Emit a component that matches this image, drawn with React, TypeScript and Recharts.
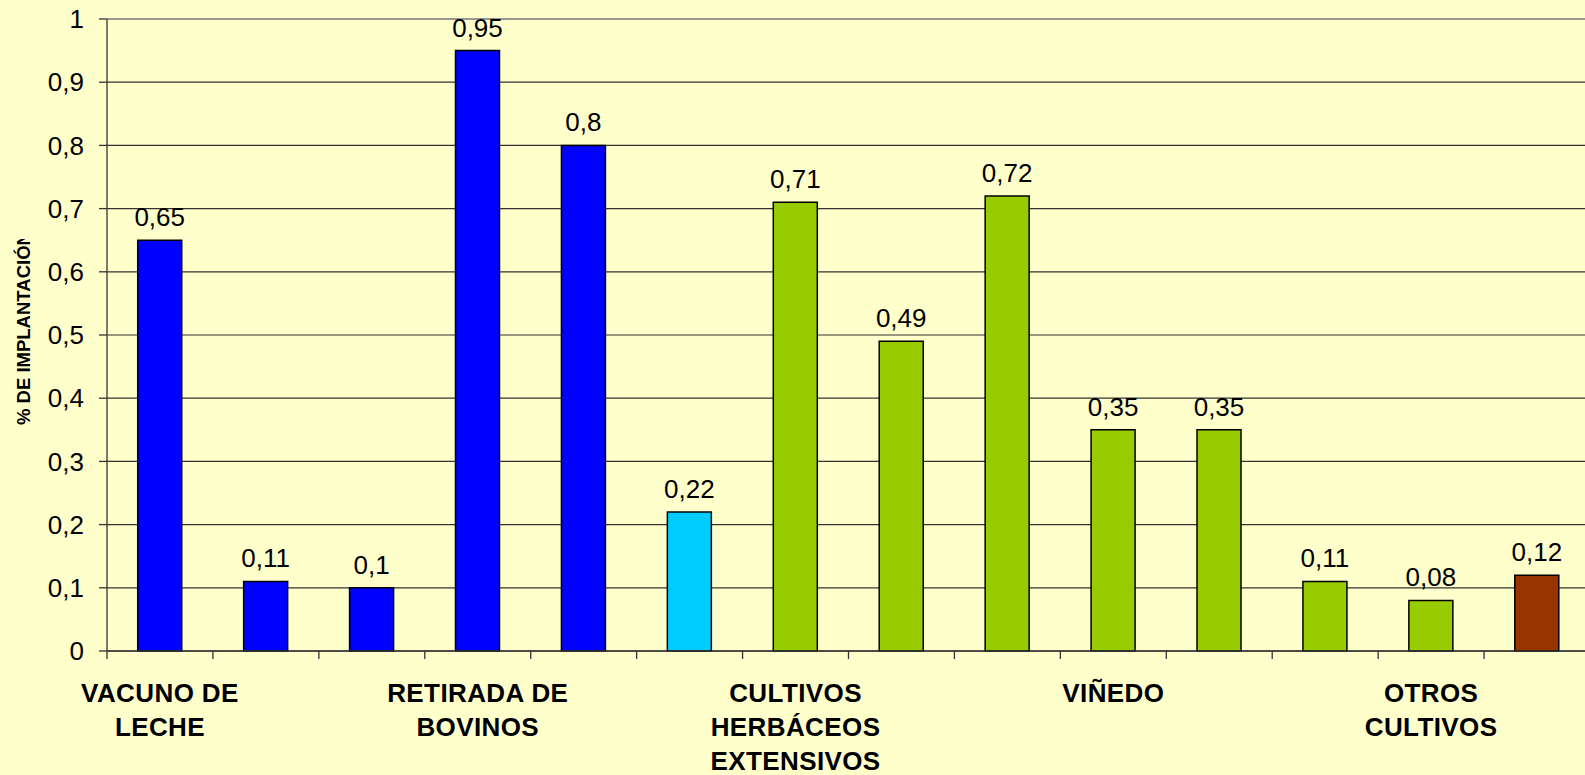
import { BarChart, Bar, XAxis, YAxis, CartesianGrid, ReferenceLine, LabelList, Cell } from 'recharts';

const bars = ['b1', 'b2', 'b3', 'b4', 'b5', 'b6', 'b7', 'b8', 'b9', 'b10', 'b11', 'b12', 'b13', 'b14'];
const values = [0.65, 0.11, 0.1, 0.95, 0.8, 0.22, 0.71, 0.49, 0.72, 0.35, 0.35, 0.11, 0.08, 0.12];
const colors = ['#0000FF', '#0000FF', '#0000FF', '#0000FF', '#0000FF', '#00CCFF', '#99CC00', '#99CC00', '#99CC00', '#99CC00', '#99CC00', '#99CC00', '#99CC00', '#993300'];
const groupLabels = [['VACUNO DE', 'LECHE'], ['RETIRADA DE', 'BOVINOS'], ['CULTIVOS', 'HERBÁCEOS', 'EXTENSIVOS'], ['VIÑEDO'], ['OTROS', 'CULTIVOS']];
const groupAt = [0, 3, 6, 9, 12];
const yTicks = [0, 0.1, 0.2, 0.3, 0.4, 0.5, 0.6, 0.7, 0.8, 0.9, 1];
const yTitle = '% DE IMPLANTACIÓN';

const data = bars.map((id, i) => ({ id, value: values[i] }));

const FONT = 'Arial, "Liberation Sans", sans-serif';
const W = 1600;
const H = 775;
const LEFT = 107;
const RIGHT_MARGIN = 10;
const BAND = (W - RIGHT_MARGIN - LEFT) / bars.length;

const comma = (v: number) => String(v).replace('.', ',');

function XTick(props: any) {
  const { x, y, payload } = props;
  const idx = payload.index;
  const g = groupAt.indexOf(idx);
  const left = x - BAND / 2;
  return (
    <g>
      <line x1={left} x2={left} y1={y} y2={y + 8} stroke="#333" strokeWidth={1.3} />
      {idx === bars.length - 1 && (
        <line x1={x + BAND / 2} x2={x + BAND / 2} y1={y} y2={y + 8} stroke="#333" strokeWidth={1.3} />
      )}
      {g >= 0 && (
        <text x={x} y={y + 51} textAnchor="middle" fontFamily={FONT} fontWeight="bold" fontSize={26} letterSpacing={0.4} fill="#000">
          {groupLabels[g].map((line, k) => (
            <tspan key={k} x={x} dy={k === 0 ? 0 : 34}>{line}</tspan>
          ))}
        </text>
      )}
    </g>
  );
}

export default function App() {
  return (
    <div style={{ position: 'absolute', left: 0, top: 0, width: 1585, height: 775, overflow: 'hidden', background: '#FFFFCC' }}>
      <BarChart width={W} height={H} data={data} margin={{ top: 19, right: RIGHT_MARGIN, bottom: 0, left: 0 }} barCategoryGap="29%">
        <CartesianGrid vertical={false} stroke="#333" strokeWidth={1.2} />
        <ReferenceLine y={1} stroke="#999" strokeWidth={1.5} />
        <XAxis
          dataKey="id"
          interval={0}
          height={124}
          tickSize={0}
          tickMargin={0}
          axisLine={{ stroke: '#333', strokeWidth: 1.3 }}
          tickLine={false}
          tick={<XTick />}
        />
        <YAxis
          width={LEFT}
          domain={[0, 1]}
          ticks={yTicks}
          tickFormatter={comma}
          tickSize={8}
          tickMargin={15}
          axisLine={{ stroke: '#333', strokeWidth: 1.3 }}
          tickLine={{ stroke: '#333', strokeWidth: 1.3 }}
          tick={{ fontSize: 26, fill: '#000', fontFamily: FONT }}
        />
        <Bar dataKey="value" stroke="#000" strokeWidth={1.5} isAnimationActive={false}>
          {data.map((d, i) => (
            <Cell key={d.id} fill={colors[i]} />
          ))}
          <LabelList dataKey="value" position="top" offset={14} formatter={(v: any) => comma(v)} fontSize={26} fill="#000" fontFamily={FONT} />
        </Bar>
      </BarChart>
      <svg width={60} height={775} style={{ position: 'absolute', left: 0, top: 0 }}>
        <defs>
          <clipPath id="ytitle-clip">
            <rect x={0} y={239} width={60} height={300} />
          </clipPath>
        </defs>
        <g clipPath="url(#ytitle-clip)">
          <text transform="translate(30, 425) rotate(-90)" fontFamily={FONT} fontWeight="bold" fontSize={18.5} fill="#000">
            {yTitle}
          </text>
        </g>
      </svg>
    </div>
  );
}
